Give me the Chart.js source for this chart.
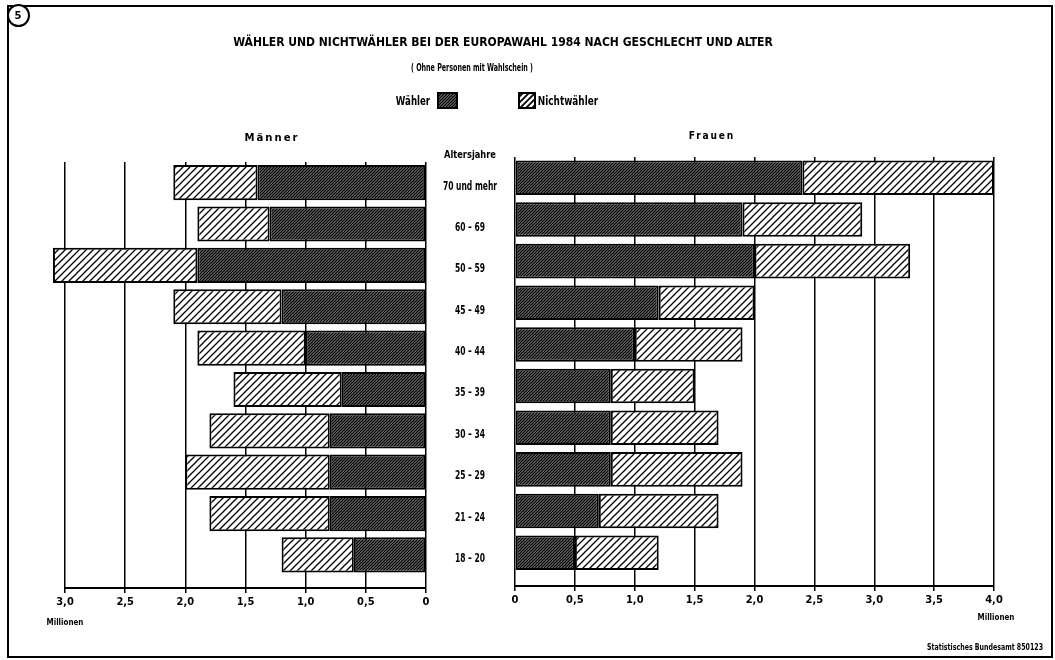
<!DOCTYPE html>
<html>
<head>
<meta charset="utf-8">
<script src="https://cdn.jsdelivr.net/npm/chart.js@4.4.1/dist/chart.umd.min.js"></script>
<style>
  body { margin: 0; background: #fff; }
  #page { position: relative; width: 1055px; height: 660px; overflow: hidden; background: #fff; }
  #frame { position: absolute; left: 7px; top: 5px; width: 1042px; height: 649px; border: 2px solid #000; }
  canvas { position: absolute; top: 0; }
  .txt { position: absolute; white-space: nowrap; font-weight: bold; color: #000; line-height: 1; }
  #circle { position: absolute; left: 7px; top: 4px; width: 23px; height: 23px; border: 2px solid #000; border-radius: 50%; box-sizing: border-box; background: #fff; }
</style>
</head>
<body>
<div id="page">
  <div id="frame"></div>
  <div id="circle"></div>
  <canvas id="men" width="516" height="660" style="left:0"></canvas>
  <canvas id="women" width="555" height="660" style="left:500px"></canvas>
</div>
<script>
// age groups, top to bottom
const ageGroups = ['70 und mehr', '60 – 69', '50 – 59', '45 – 49', '40 – 44', '35 – 39', '30 – 34', '25 – 29', '21 – 24', '18 – 20'];

// Millionen
const menVoters = [1.4, 1.3, 1.9, 1.2, 1.0, 0.7, 0.8, 0.8, 0.8, 0.6];
const menNonVoters = [0.7, 0.6, 1.2, 0.9, 0.9, 0.9, 1.0, 1.2, 1.0, 0.6];
const womenVoters = [2.4, 1.9, 2.0, 1.2, 1.0, 0.8, 0.8, 0.8, 0.7, 0.5];
const womenNonVoters = [1.6, 1.0, 1.3, 0.8, 0.9, 0.7, 0.9, 1.1, 1.0, 0.7];

const xTickLabels = ['0', '0,5', '1,0', '1,5', '2,0', '2,5', '3,0', '3,5', '4,0'];

const FONT = '"Liberation Sans Narrow", "DejaVu Sans Condensed", "DejaVu Sans", sans-serif';
const page = document.getElementById('page');

// text centred on (cx, cy); squeezed to width w, or by factor sx
const addText = (txt, cx, cy, size, o = {}) => {
    const el = document.createElement('div');
    el.className = 'txt';
    el.textContent = txt;
    el.style.fontFamily = FONT;
    el.style.fontSize = size + 'px';
    if (o.spacing) el.style.letterSpacing = o.spacing + 'px';
    el.style.left = cx + 'px';
    el.style.top = cy + 'px';
    page.appendChild(el);
    const s = o.w ? o.w / el.offsetWidth : (o.sx || 1);
    el.style.transform = `translate(-50%, -50%) scaleX(${s})`;
    return s;
};

const makeHatch = (ctx, gap, width) => {
    const c = document.createElement('canvas');
    c.width = gap;
    c.height = gap;
    const g = c.getContext('2d');
    g.fillStyle = '#fff';
    g.fillRect(0, 0, gap, gap);
    g.strokeStyle = '#000';
    g.lineWidth = width;
    g.beginPath();
    g.moveTo(0, gap); g.lineTo(gap, 0);
    g.moveTo(-1, 1); g.lineTo(1, -1);
    g.moveTo(gap - 1, gap + 1); g.lineTo(gap + 1, gap - 1);
    g.stroke();
    return ctx.createPattern(c, 'repeat');
};

const tickFont = { family: FONT, size: 11, weight: 'bold' };

const buildChart = (id, voters, nonVoters, opts) => {
    const ctx = document.getElementById(id).getContext('2d');
    const dark = makeHatch(ctx, 3, 1.6);
    const light = makeHatch(ctx, 7, 1.3);
    const barStyle = { borderColor: '#000', borderWidth: 2, borderSkipped: false, stack: 'all', clip: false };

    return new Chart(ctx, {
        type: 'bar',
        data: {
            datasets: [
                { label: 'Wähler', data: voters.map((v, i) => ({ x: v, y: i })), backgroundColor: dark, ...barStyle },
                { label: 'Nichtwähler', data: nonVoters.map((v, i) => ({ x: v, y: i })), backgroundColor: light, ...barStyle }
            ]
        },
        options: {
            indexAxis: 'y',
            responsive: false,
            animation: false,
            layout: { padding: opts.padding },
            datasets: { bar: { barPercentage: opts.barPct, categoryPercentage: 1 } },
            plugins: { legend: { display: false }, tooltip: { enabled: false } },
            scales: {
                x: {
                    type: 'linear',
                    reverse: opts.reverse,
                    min: 0,
                    max: opts.max,
                    stacked: true,
                    afterFit: s => { s.height = 30; },
                    ticks: {
                        stepSize: 0.5,
                        maxRotation: 0,
                        padding: 3,
                        color: '#000',
                        font: tickFont,
                        callback: v => xTickLabels[Math.round(v * 2)]
                    },
                    grid: { color: '#000', lineWidth: 1.5, tickLength: 5 },
                    border: { color: '#000', width: 2 }
                },
                y: {
                    type: 'linear',
                    display: opts.gap > 0,
                    position: 'right',
                    reverse: true,
                    offset: false,
                    bounds: 'data',
                    min: -0.5,
                    max: 9.8,
                    afterBuildTicks: s => {
                        s.ticks = ageGroups.map((a, i) => ({ value: i }));
                    },
                    afterFit: s => { s.width = opts.gap; },
                    ticks: { display: false },
                    grid: { display: false, drawTicks: false, offset: false },
                    border: { display: false }
                }
            }
        }
    });
};

const men = buildChart('men', menVoters, menNonVoters, {
    reverse: true, max: 3, gap: 88, barPct: 0.85,
    padding: { left: 65, top: 162, right: 2, bottom: 42 }
});
buildChart('women', womenVoters, womenNonVoters, {
    reverse: false, max: 4, gap: 0, barPct: 0.83,
    padding: { left: 15, top: 157, right: 61, bottom: 44 }
});

// age labels between the two halves, at the men's bar positions
const ageScale = addText(ageGroups[0], 470, men.scales.y.getPixelForValue(0) + 3, 12, { w: 54 });
ageGroups.slice(1).forEach((a, i) => {
    addText(a, 470, men.scales.y.getPixelForValue(i + 1) + 3, 12, { sx: ageScale });
});

// texts
addText('5', 18, 15, 11);
addText('WÄHLER UND NICHTWÄHLER BEI DER EUROPAWAHL 1984 NACH GESCHLECHT UND ALTER', 503, 42, 12, { w: 540 });
addText('( Ohne Personen mit Wahlschein )', 472, 67, 11, { w: 122 });
addText('Wähler', 413, 100, 13, { w: 34 });
addText('Nichtwähler', 568, 100, 13, { w: 60 });
addText('Männer', 272, 137, 11, { w: 55, spacing: 2 });
addText('Frauen', 712, 135, 11, { w: 46, spacing: 2 });
addText('Altersjahre', 470, 154, 11, { w: 52 });
addText('Millionen', 65, 622, 9, { w: 37 });
addText('Millionen', 996, 617, 9, { w: 37 });
addText('Statistisches Bundesamt 850123', 985, 647, 9, { w: 116 });

// legend swatches, same hatches as the bars
const swatch = (x, y, w, h, gap, lw) => {
    const c = document.createElement('canvas');
    c.width = w; c.height = h;
    c.style.left = x + 'px'; c.style.top = y + 'px';
    const g = c.getContext('2d');
    g.fillStyle = makeHatch(g, gap, lw);
    g.fillRect(0, 0, w, h);
    g.strokeStyle = '#000';
    g.lineWidth = 2;
    g.strokeRect(1, 1, w - 2, h - 2);
    page.appendChild(c);
};
swatch(437, 92, 21, 17, 3, 1.6);
swatch(518, 92, 18, 17, 6, 1.8);
</script>
</body>
</html>
